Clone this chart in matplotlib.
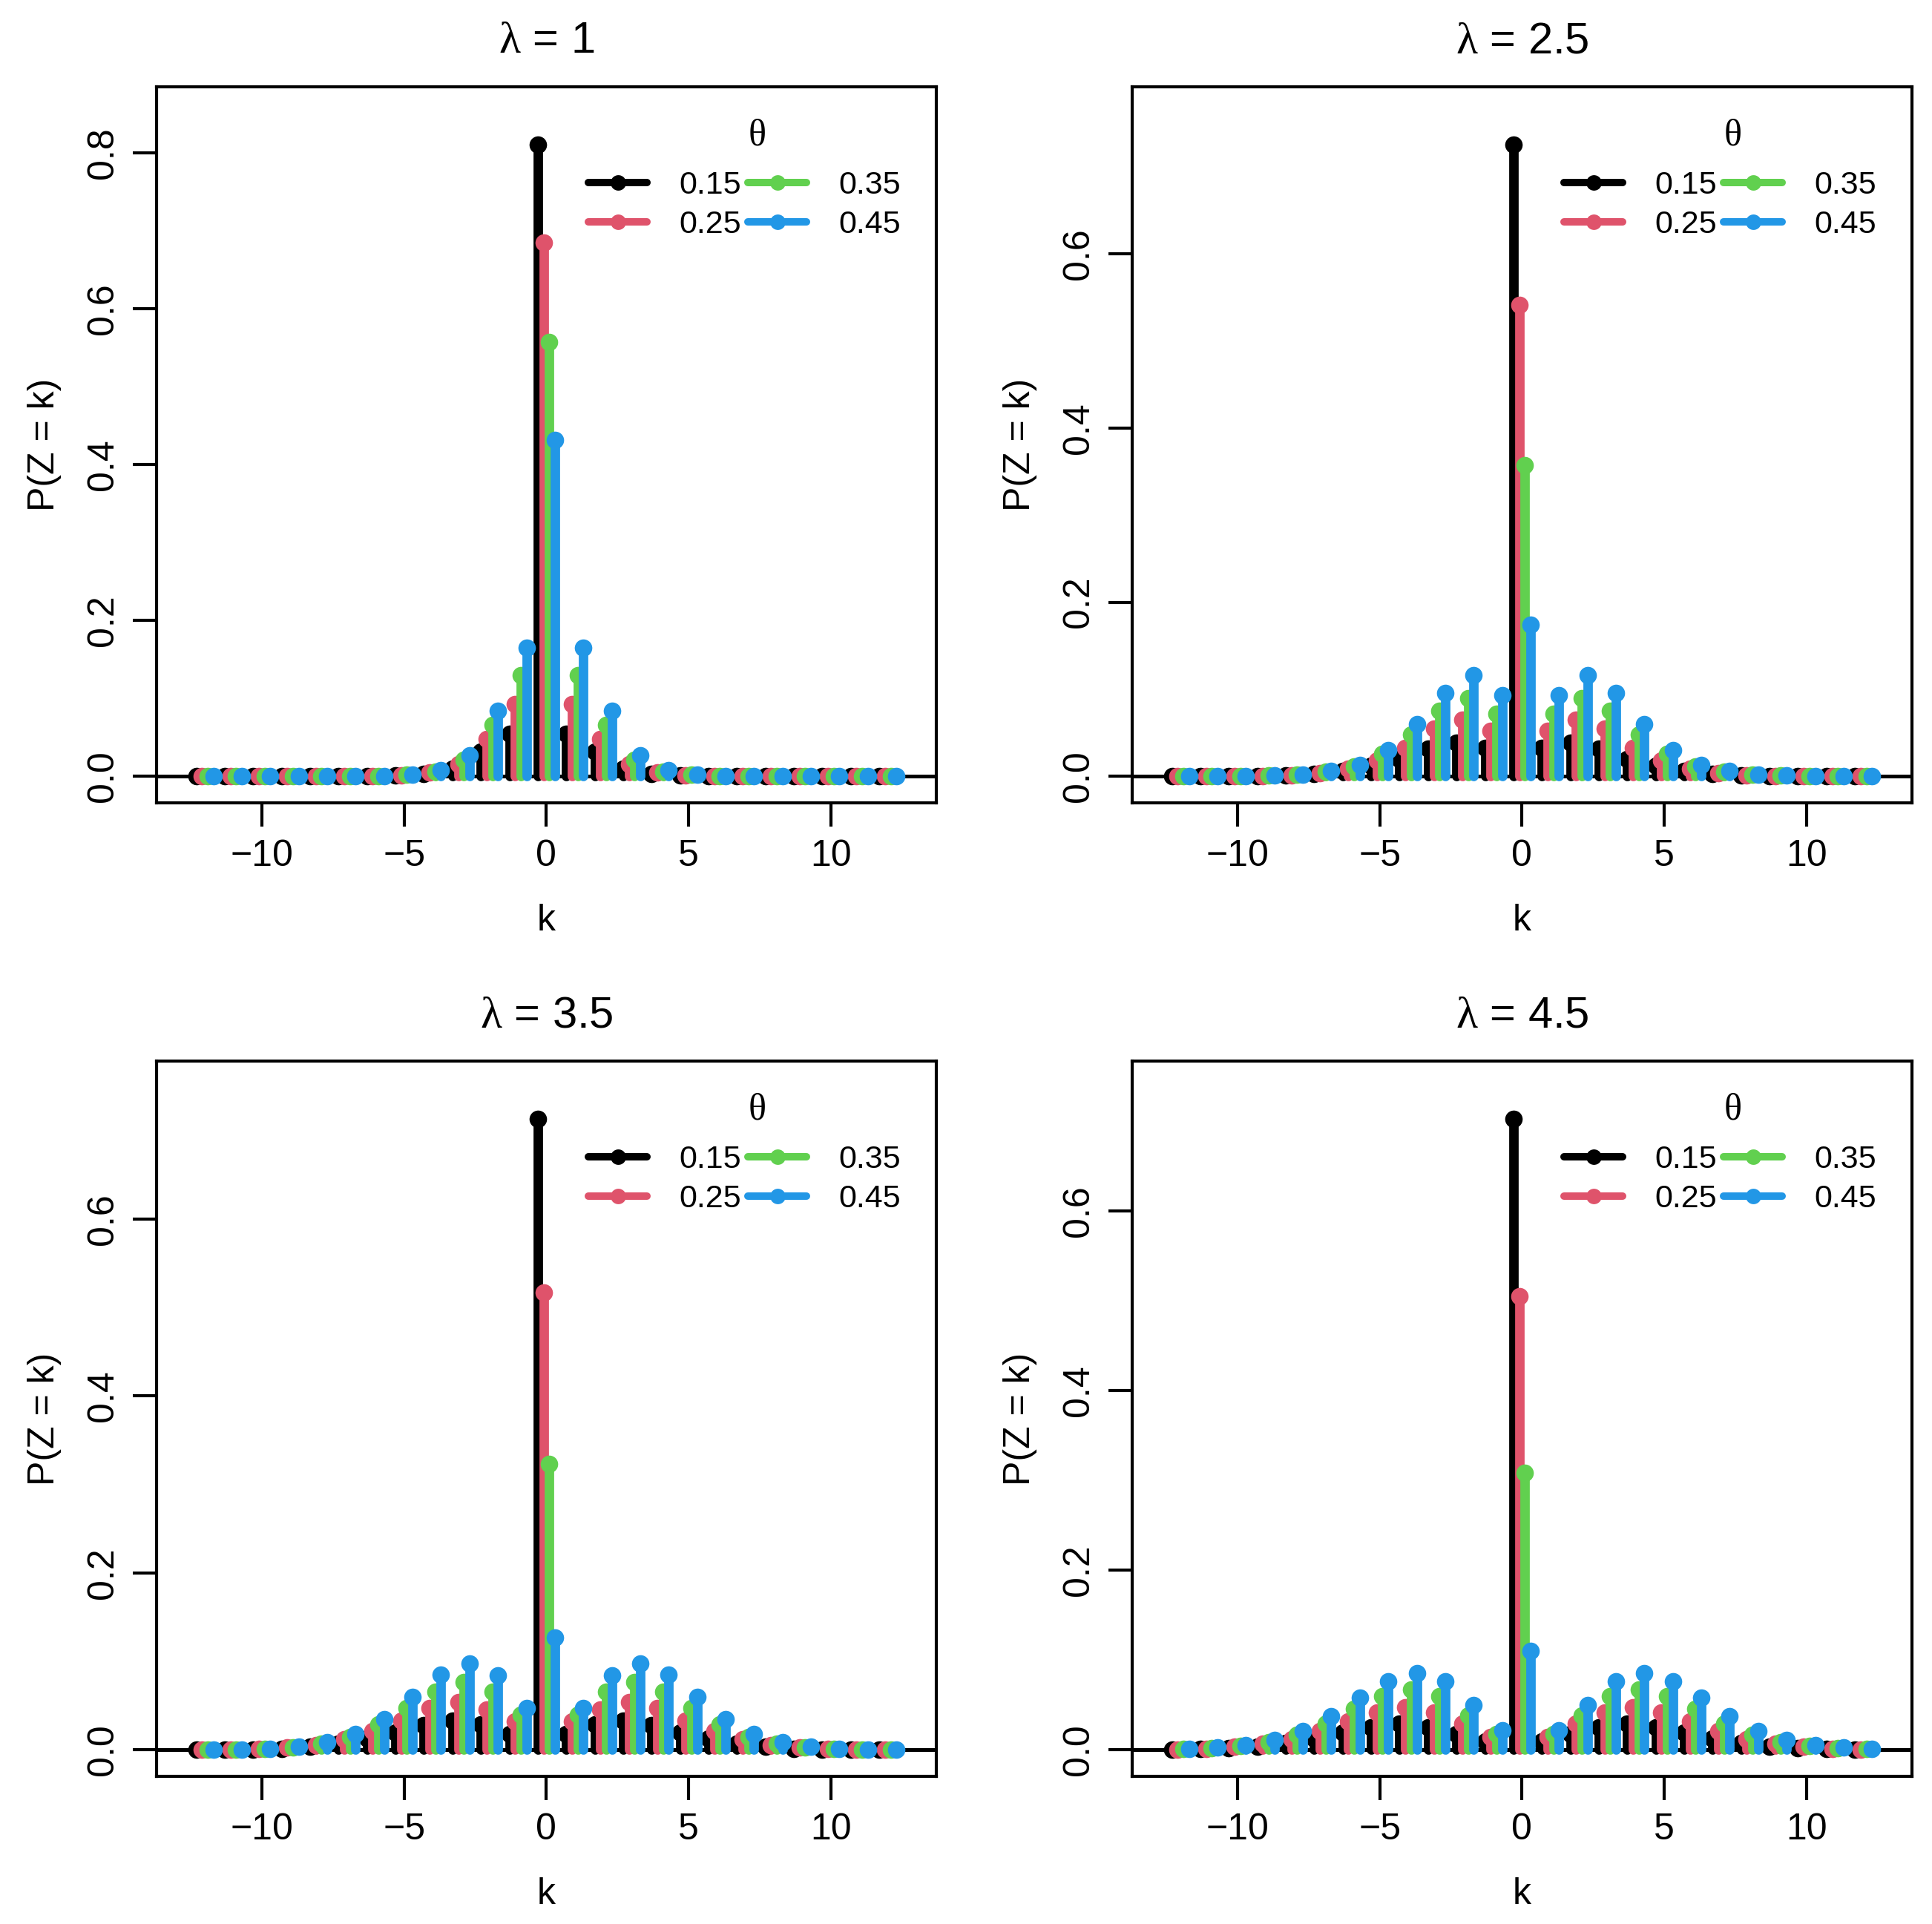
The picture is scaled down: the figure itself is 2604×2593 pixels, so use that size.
import numpy as np
import matplotlib
matplotlib.use("Agg")
import matplotlib.pyplot as plt
from matplotlib.lines import Line2D

plt.rcParams['font.family'] = ['Liberation Sans', 'DejaVu Sans']
plt.rcParams['mathtext.fontset'] = 'custom'
plt.rcParams['mathtext.rm'] = 'Liberation Sans'
plt.rcParams['mathtext.it'] = 'Liberation Serif'

# Data
k = np.arange(-12, 13)
thetas = ['0.15', '0.25', '0.35', '0.45']
lambdas = ['1', '2.5', '3.5', '4.5']
colors = ['#000000', '#DF536B', '#61D04F', '#2297E6']
offsets = [-0.3, -0.1, 0.1, 0.3]

# lambda = 1
p1_015 = [0, 0, 0, 0, 0, 0, 0, 0.001, 0.003, 0.010, 0.032, 0.055, 0.810,
          0.055, 0.032, 0.010, 0.003, 0.001, 0, 0, 0, 0, 0, 0, 0]
p1_025 = [0, 0, 0, 0, 0, 0, 0.0004, 0.0015, 0.005, 0.016, 0.0475, 0.093, 0.685,
          0.093, 0.0475, 0.016, 0.005, 0.0015, 0.0004, 0, 0, 0, 0, 0, 0]
p1_035 = [0, 0, 0, 0, 0, 0, 0.0005, 0.0018, 0.006, 0.021, 0.066, 0.130, 0.557,
          0.130, 0.066, 0.021, 0.006, 0.0018, 0.0005, 0, 0, 0, 0, 0, 0]
p1_045 = [0, 0, 0, 0, 0, 0, 0.0005, 0.002, 0.0075, 0.027, 0.084, 0.165, 0.431,
          0.165, 0.084, 0.027, 0.0075, 0.002, 0.0005, 0, 0, 0, 0, 0, 0]

# lambda = 2.5
p2_015 = [0, 0, 0, 0.0004, 0.0012, 0.003, 0.006, 0.012, 0.020, 0.032, 0.039, 0.0325, 0.725,
          0.0325, 0.039, 0.032, 0.020, 0.012, 0.006, 0.003, 0.0012, 0.0004, 0, 0, 0]
p2_025 = [0, 0, 0, 0.0005, 0.0015, 0.004, 0.009, 0.018, 0.033, 0.055, 0.065, 0.052, 0.541,
          0.052, 0.065, 0.055, 0.033, 0.018, 0.009, 0.004, 0.0015, 0.0005, 0, 0, 0]
p2_035 = [0, 0, 0, 0.0007, 0.002, 0.005, 0.011, 0.026, 0.048, 0.075, 0.090, 0.072, 0.357,
          0.072, 0.090, 0.075, 0.048, 0.026, 0.011, 0.005, 0.002, 0.0007, 0, 0, 0]
p2_045 = [0, 0, 0, 0.0008, 0.0022, 0.006, 0.013, 0.030, 0.060, 0.096, 0.116, 0.093, 0.174,
          0.093, 0.116, 0.096, 0.060, 0.030, 0.013, 0.006, 0.0022, 0.0008, 0, 0, 0]

# lambda = 3.5
p3_015 = [0, 0.0002, 0.0006, 0.0015, 0.0035, 0.007, 0.013, 0.020, 0.028, 0.033, 0.029, 0.018, 0.713,
          0.018, 0.029, 0.033, 0.028, 0.020, 0.013, 0.007, 0.0035, 0.0015, 0.0006, 0.0002, 0]
p3_025 = [0, 0.0004, 0.001, 0.0025, 0.0055, 0.012, 0.021, 0.033, 0.047, 0.054, 0.046, 0.032, 0.517,
          0.032, 0.046, 0.054, 0.047, 0.033, 0.021, 0.012, 0.0055, 0.0025, 0.001, 0.0004, 0]
p3_035 = [0, 0.0004, 0.0012, 0.003, 0.007, 0.015, 0.029, 0.047, 0.066, 0.077, 0.066, 0.040, 0.323,
          0.040, 0.066, 0.077, 0.066, 0.047, 0.029, 0.015, 0.007, 0.003, 0.0012, 0.0004, 0]
p3_045 = [0.0001, 0.0004, 0.0012, 0.0033, 0.0084, 0.018, 0.035, 0.060, 0.085, 0.098, 0.084, 0.047, 0.127,
          0.047, 0.084, 0.098, 0.085, 0.060, 0.035, 0.018, 0.0084, 0.0033, 0.0012, 0.0004, 0.0001]

# lambda = 4.5
p4_015 = [0.0004, 0.0009, 0.002, 0.004, 0.0075, 0.0125, 0.0195, 0.025, 0.029, 0.025, 0.018, 0.0097, 0.702,
          0.0097, 0.018, 0.025, 0.029, 0.025, 0.0195, 0.0125, 0.0075, 0.004, 0.002, 0.0009, 0.0004]
p4_025 = [0.0006, 0.0015, 0.0035, 0.007, 0.012, 0.021, 0.032, 0.042, 0.047, 0.042, 0.029, 0.014, 0.505,
          0.014, 0.029, 0.042, 0.047, 0.042, 0.032, 0.021, 0.012, 0.007, 0.0035, 0.0015, 0.0006]
p4_035 = [0.0008, 0.002, 0.0045, 0.009, 0.017, 0.029, 0.046, 0.060, 0.067, 0.060, 0.038, 0.018, 0.308,
          0.018, 0.038, 0.060, 0.067, 0.060, 0.046, 0.029, 0.017, 0.009, 0.0045, 0.002, 0.0008]
p4_045 = [0.001, 0.0025, 0.0056, 0.011, 0.021, 0.0376, 0.058, 0.0766, 0.0855, 0.0766, 0.050, 0.022, 0.110,
          0.022, 0.050, 0.0766, 0.0855, 0.0766, 0.058, 0.0376, 0.021, 0.011, 0.0056, 0.0025, 0.001]

panels = [
    [p1_015, p1_025, p1_035, p1_045],
    [p2_015, p2_025, p2_035, p2_045],
    [p3_015, p3_025, p3_035, p3_045],
    [p4_015, p4_025, p4_035, p4_045],
]

fig = plt.figure(figsize=(26.04, 25.93), dpi=100)
rects = [
    [0.0810, 0.5827, 0.4036, 0.3722],
    [0.5860, 0.5827, 0.4036, 0.3722],
    [0.0810, 0.0767, 0.4036, 0.3718],
    [0.5860, 0.0767, 0.4036, 0.3718],
]

for i, series in enumerate(panels):
    ax = fig.add_axes(rects[i])
    ax.axhline(0, color='black', lw=3.6, zorder=1)
    for j, p in enumerate(series):
        x = k + offsets[j]
        lc = ax.vlines(x, 0, p, color=colors[j], lw=9.2, zorder=2 + j)
        lc.set_capstyle('round')
        ax.plot(x, p, 'o', color=colors[j], ms=17, mew=0, zorder=2 + j)

    ymax = 1.05 * max(max(p) for p in series)
    ax.set_ylim(-0.04 * ymax, 1.04 * ymax)
    ax.set_xlim(-13.7, 13.7)
    ax.set_xticks([-10, -5, 0, 5, 10])
    if i == 0:
        ax.set_yticks([0.0, 0.2, 0.4, 0.6, 0.8])
    else:
        ax.set_yticks([0.0, 0.2, 0.4, 0.6])
    ax.set_yticklabels([f'{v:.1f}' for v in ax.get_yticks()])

    for s in ax.spines.values():
        s.set_linewidth(3.0)
    ax.tick_params(length=23, width=3.0, labelsize=36, pad=12)
    ax.tick_params(axis='y', labelrotation=90)
    for lab in ax.get_yticklabels():
        lab.set_va('center')

    ax.set_title(r'$\lambda$ = ' + lambdas[i], fontsize=43, pad=33)
    ax.set_xlabel('k', fontsize=36, labelpad=30)
    ax.set_ylabel('P(Z = k)', fontsize=36, labelpad=24)

    handles = [Line2D([0], [0], color=c, lw=7.2, marker='o', ms=15, mew=0,
                      solid_capstyle='round') for c in colors]
    ax.legend(handles, thetas, ncol=2, frameon=False,
              loc='upper right', bbox_to_anchor=(0.975, 0.905),
              fontsize=31, handlelength=1.85, handletextpad=1.0,
              columnspacing=0.2, labelspacing=0.3, borderpad=0)
    ax.text(0.770, 0.931, 'θ', transform=ax.transAxes, ha='center', va='center',
            fontsize=36, family=['Liberation Serif', 'DejaVu Serif'])

fig.savefig('out.png', dpi=100)
